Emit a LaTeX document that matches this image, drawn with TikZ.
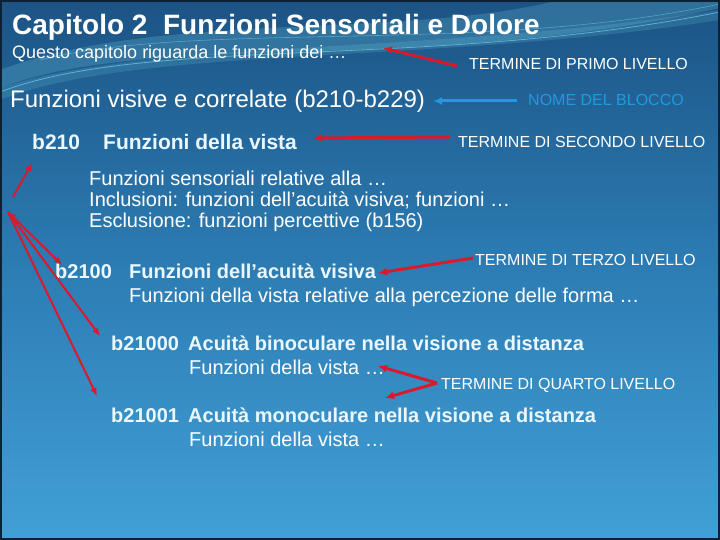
\documentclass[tikz,border=0pt]{standalone}
\usepackage{fontspec}
\setmainfont{Liberation Sans}
\usetikzlibrary{arrows.meta}
\definecolor{bgtop}{HTML}{1C5384}
\definecolor{bgmid}{HTML}{2C7DB4}
\definecolor{bgbot}{HTML}{41A0D7}
\definecolor{arred}{HTML}{D91A2A}
\definecolor{arblue}{HTML}{1E9AE0}
\definecolor{lbltxt}{HTML}{EAF7FF}
\definecolor{swoosh}{HTML}{7FE0F0}
\tikzset{
  txt/.style={anchor=base west, inner sep=0pt, text=white},
  title/.style={txt, font=\fontsize{28}{32}\selectfont\bfseries},
  sub/.style={txt, font=\fontsize{18}{21}\selectfont},
  block/.style={txt, font=\fontsize{24}{28}\selectfont},
  code/.style={txt, text=lbltxt, font=\fontsize{21}{25}\selectfont\bfseries},
  codes/.style={txt, text=lbltxt, font=\fontsize{20}{24}\selectfont\bfseries},
  body/.style={txt, font=\fontsize{20}{23}\selectfont},
  lbl/.style={txt, font=\fontsize{16}{19}\selectfont},
  redarrow/.style={draw=arred, line width=3pt, -{Latex[length=9pt,width=8pt]}},
  thinarrow/.style={draw=arred, line width=2pt, -{Latex[length=8pt,width=7pt]}},
  bluearrow/.style={draw=arblue, line width=3pt, -{Latex[length=9pt,width=8pt]}},
}
\begin{document}
\begin{tikzpicture}[x=1pt,y=-1pt]
\useasboundingbox (0,0) rectangle (720,540);
% background
\shade[top color=bgtop, bottom color=bgbot, middle color=bgmid] (0,0) rectangle (720,540);
% swoosh
\fill[swoosh, opacity=0.2] (0,88) .. controls (150,30) and (420,75) .. (720,8) -- (720,0) -- (560,0) .. controls (400,40) and (160,10) .. (0,70) -- cycle;
\fill[swoosh, opacity=0.16] (0,100) .. controls (140,45) and (430,65) .. (720,20) -- (720,10) .. controls (430,55) and (140,40) .. (0,88) -- cycle;
\draw[swoosh, opacity=0.6, line width=0.8pt] (0,92) .. controls (150,35) and (430,70) .. (720,12);
\draw[swoosh, opacity=0.45, line width=0.6pt] (40,60) .. controls (200,20) and (480,55) .. (720,4);
% border
\draw[black!60!bgtop, line width=2pt] (1,1) rectangle (719,539);

% texts
\node[title] (title) at (12,35) {Capitolo 2\ \ Funzioni Sensoriali e Dolore};
\node[sub] (sub) at (12,59) {Questo capitolo riguarda le funzioni dei …};
\node[block] (blk) at (10,108) {Funzioni visive e correlate (b210-b229)};
\node[code] (c210) at (32,150) {b210};
\node[code] (t210) at (103,150) {Funzioni della vista};
\node[body] (d1) at (89,186) {Funzioni sensoriali relative alla …};
\node[body] (d2) at (89,207) {Inclusioni: funzioni dell’acuità visiva; funzioni …};
\node[body] (d3) at (89,228) {Esclusione: funzioni percettive (b156)};
\node[codes] (c2100) at (55,278) {b2100};
\node[codes] (t2100) at (129,278) {Funzioni dell’acuità visiva};
\node[body] (d2100) at (129,302) {Funzioni della vista relative alla percezione delle forma …};
\node[codes] (c21000) at (111,350) {b21000};
\node[codes] (t21000) at (188,350) {Acuità binoculare nella visione a distanza};
\node[body] (d21000) at (189,374) {Funzioni della vista …};
\node[codes] (c21001) at (111,422) {b21001};
\node[codes] (t21001) at (188,422) {Acuità monoculare nella visione a distanza};
\node[body] (d21001) at (189,446) {Funzioni della vista …};

% labels
\node[lbl] (l1) at (469,70) {TERMINE DI PRIMO LIVELLO};
\node[lbl, text=arblue] (l2) at (528,106) {NOME DEL BLOCCO};
\node[lbl] (l3) at (458,148) {TERMINE DI SECONDO LIVELLO};
\node[lbl] (l4) at (475,265) {TERMINE DI TERZO LIVELLO};
\node[lbl] (l5) at (441,389) {TERMINE DI QUARTO LIVELLO};

% arrow endpoints
\coordinate (a1s) at (457,66);  \coordinate (a1e) at (383,48);
\coordinate (a2s) at (517,101); \coordinate (a2e) at (433,101);
\coordinate (a3s) at (450,137); \coordinate (a3e) at (313,138);
\coordinate (a4s) at (473,258); \coordinate (a4e) at (378,273);
\coordinate (a5v) at (437,383); \coordinate (a5e1) at (378,366); \coordinate (a5e2) at (385,398);
\coordinate (b1s) at (13,197);  \coordinate (b1e) at (32,163);
\coordinate (jn) at (8,212);
\coordinate (b2e) at (62,265);  \coordinate (b3e) at (100,336); \coordinate (b4e) at (97,396);

\draw[redarrow] (a1s) -- (a1e);
\draw[bluearrow] (a2s) -- (a2e);
\draw[redarrow] (a3s) -- (a3e);
\draw[redarrow] (a4s) -- (a4e);
\draw[redarrow] (a5v) -- (a5e1);
\draw[redarrow] (a5v) -- (a5e2);
\draw[thinarrow] (b1s) -- (b1e);
\draw[thinarrow, {Latex[length=8pt,width=7pt]}-{Latex[length=8pt,width=7pt]}] (jn) -- (b2e);
\draw[thinarrow] (jn) -- (b3e);
\draw[thinarrow] (jn) -- (b4e);
\end{tikzpicture}
\end{document}
